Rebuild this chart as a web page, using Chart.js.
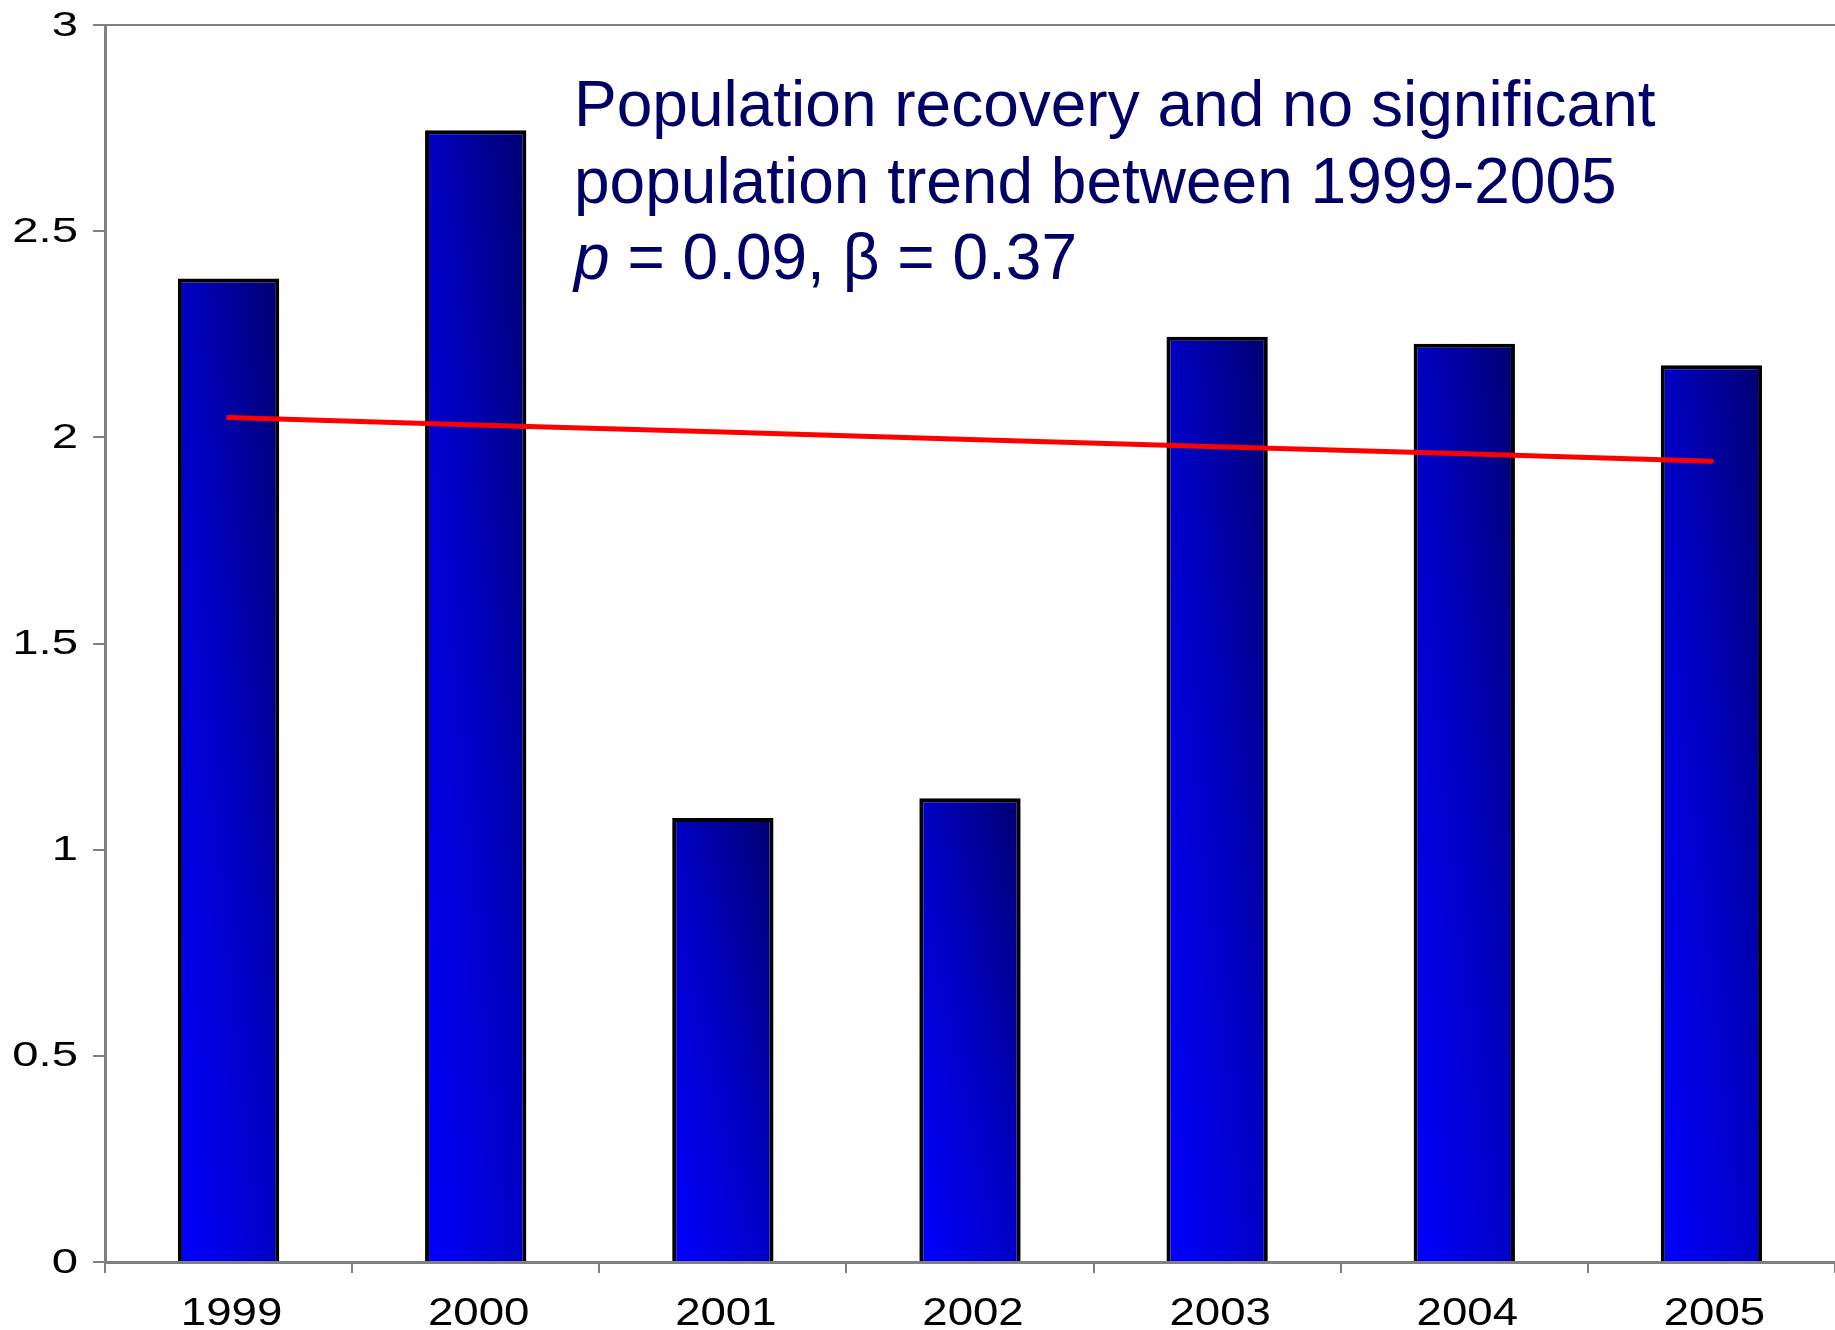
<!DOCTYPE html>
<html>
<head>
<meta charset="utf-8">
<script src="https://cdn.jsdelivr.net/npm/chart.js@4/dist/chart.umd.min.js"></script>
<style>
  html, body { margin: 0; padding: 0; background: #fff; }
  canvas { display: block; }
</style>
</head>
<body>
<canvas id="popChart" width="1835" height="1330"></canvas>
<script>
// values
const years = ['1999', '2000', '2001', '2002', '2003', '2004', '2005'];
const density = [2.385, 2.745, 1.077, 1.125, 2.244, 2.227, 2.175];
const trend = [2.048, 2.030, 2.013, 1.995, 1.977, 1.960, 1.942];
const yTickLabels = ['0', '0.5', '1', '1.5', '2', '2.5', '3'];
const noteLines = [
    'Population recovery and no significant',
    'population trend between 1999-2005'
];
const noteStats = ' = 0.09, \u03b2 = 0.37';

const axisGray = '#808080';
const fontFamily = '"Liberation Sans", Arial, sans-serif';

// diagonal shade on each bar: bright blue bottom-left, navy top-right
function barShade(context) {
    const chart = context.chart;
    if (!chart.chartArea) return '#0000ff';
    const xs = chart.scales.x;
    const ys = chart.scales.y;
    const i = context.dataIndex;
    const step = xs.getPixelForValue(1) - xs.getPixelForValue(0);
    const w = step * 0.41;
    const x0 = xs.getPixelForValue(i) - w / 2;
    const yb = ys.getPixelForValue(0);
    const yt = ys.getPixelForValue(density[i]);
    const h = Math.max(1, yb - yt);
    const a = 2 * w * h * h / (h * h + w * w);
    const b = a * w / h;
    const g = chart.ctx.createLinearGradient(x0, yb, x0 + a, yb - b);
    g.addColorStop(0, '#0000ff');
    g.addColorStop(0.5, '#0000c4');
    g.addColorStop(1, '#000070');
    return g;
}

// tick labels in the picture are stretched sideways
function stretchedText(ctx, text, x, y, sx, align) {
    ctx.save();
    ctx.translate(x, y);
    ctx.scale(sx, 1);
    ctx.textAlign = align;
    ctx.fillText(text, 0, 0);
    ctx.restore();
}

const labelPlugin = {
    id: 'labels',
    afterDraw(chart) {
        const ctx = chart.ctx;
        const xs = chart.scales.x;
        const ys = chart.scales.y;

        ctx.fillStyle = '#000';
        ctx.font = '35px ' + fontFamily;
        ctx.textBaseline = 'middle';
        ys.ticks.forEach((t, i) => {
            stretchedText(ctx, yTickLabels[i], 78, ys.getPixelForTick(i) + 1, 1.35, 'right');
        });

        ctx.font = '38px ' + fontFamily;
        ctx.textBaseline = 'alphabetic';
        years.forEach((yr, i) => {
            stretchedText(ctx, yr, xs.getPixelForValue(i) + 3, 1325, 1.2, 'center');
        });

        // annotation
        ctx.fillStyle = '#000066';
        ctx.textAlign = 'left';
        ctx.font = '64px ' + fontFamily;
        ctx.fillText(noteLines[0], 574, 126);
        ctx.fillText(noteLines[1], 574, 203);
        ctx.font = 'italic 64px ' + fontFamily;
        ctx.fillText('p', 574, 279);
        const pw = ctx.measureText('p').width;
        ctx.font = '64px ' + fontFamily;
        ctx.fillText(noteStats, 574 + pw, 279);
    }
};

const ctx = document.getElementById('popChart').getContext('2d');

new Chart(ctx, {
    data: {
        labels: years,
        datasets: [
            {
                type: 'line',
                data: trend,
                borderColor: '#ff0000',
                borderWidth: 5,
                borderCapStyle: 'round',
                pointRadius: 0,
                tension: 0,
                order: 0
            },
            {
                type: 'bar',
                data: density,
                backgroundColor: barShade,
                borderColor: '#000000',
                borderWidth: 4,
                barPercentage: 1,
                categoryPercentage: 0.41,
                order: 1
            }
        ]
    },
    options: {
        responsive: false,
        devicePixelRatio: 1,
        animation: false,
        layout: { padding: { top: 25, left: 0, right: 0, bottom: 0 } },
        plugins: {
            legend: { display: false },
            tooltip: { enabled: false }
        },
        scales: {
            x: {
                type: 'category',
                offset: true,
                grid: {
                    offset: true,
                    drawOnChartArea: false,
                    tickLength: 11,
                    tickColor: axisGray,
                    lineWidth: 2
                },
                border: { display: true, color: axisGray, width: 3 },
                ticks: { display: false },
                afterFit(scale) { scale.height = 68; }
            },
            y: {
                min: 0,
                max: 3,
                ticks: { display: false, stepSize: 0.5 },
                grid: {
                    drawOnChartArea: true,
                    tickLength: 12,
                    tickColor: axisGray,
                    lineWidth: 2,
                    color: c => (c.tick && c.tick.value === 3) ? axisGray : 'rgba(0,0,0,0)'
                },
                border: { display: true, color: axisGray, width: 3 },
                afterFit(scale) { scale.width = 105; }
            }
        }
    },
    plugins: [labelPlugin]
});
</script>
</body>
</html>
